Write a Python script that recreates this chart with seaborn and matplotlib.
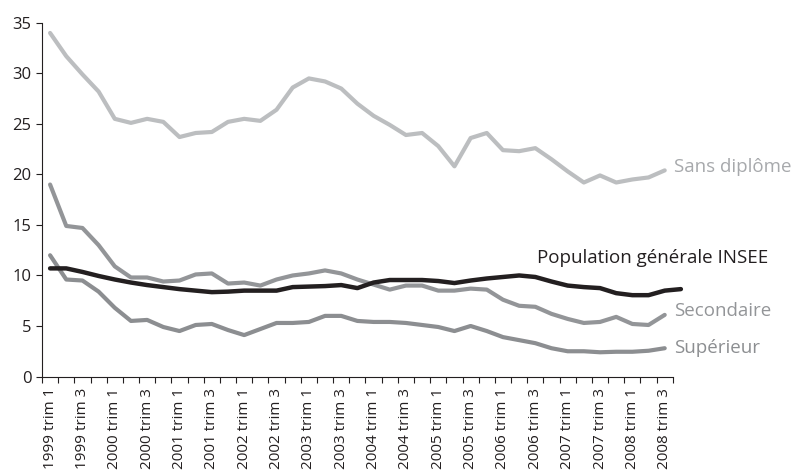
import numpy as np
import pandas as pd
import seaborn as sns
import matplotlib.pyplot as plt
from matplotlib.ticker import FixedLocator

# quarters 1999 T1 .. 2008 T3
years = [y for y in range(1999, 2009) for q in range(4)][:39]
quarters = [q for y in range(1999, 2009) for q in range(1, 5)][:39]
labels = ['{} trim {}'.format(y, q) for y, q in zip(years, quarters)]

sans_diplome = [34.0, 31.7, 29.9, 28.2, 25.5, 25.1, 25.5, 25.2, 23.7, 24.1,
                24.2, 25.2, 25.5, 25.3, 26.4, 28.6, 29.5, 29.2, 28.5, 27.0,
                25.8, 24.9, 23.9, 24.1, 22.8, 20.8, 23.6, 24.1, 22.4, 22.3,
                22.6, 21.5, 20.3, 19.2, 19.9, 19.2, 19.5, 19.7, 20.4]
secondaire = [19.0, 14.9, 14.7, 13.0, 10.9, 9.8, 9.8, 9.4, 9.5, 10.1,
              10.2, 9.2, 9.3, 9.0, 9.6, 10.0, 10.2, 10.5, 10.2, 9.6,
              9.1, 8.6, 9.0, 9.0, 8.5, 8.5, 8.7, 8.6, 7.6, 7.0,
              6.9, 6.2, 5.7, 5.3, 5.4, 5.9, 5.2, 5.1, 6.1]
superieur = [12.0, 9.6, 9.5, 8.4, 6.8, 5.5, 5.6, 4.9, 4.5, 5.1,
             5.2, 4.6, 4.1, 4.7, 5.3, 5.3, 5.4, 6.0, 6.0, 5.5,
             5.4, 5.4, 5.3, 5.1, 4.9, 4.5, 5.0, 4.5, 3.9, 3.6,
             3.3, 2.8, 2.5, 2.5, 2.4, 2.45, 2.45, 2.55, 2.8]
# INSEE series runs one quarter further (2008 T4)
insee = [10.7, 10.7, 10.35, 9.95, 9.6, 9.3, 9.05, 8.85, 8.65, 8.5,
         8.35, 8.4, 8.5, 8.5, 8.5, 8.85, 8.9, 8.95, 9.05, 8.75,
         9.3, 9.55, 9.55, 9.55, 9.45, 9.25, 9.5, 9.7, 9.85, 10.0,
         9.85, 9.4, 9.0, 8.85, 8.75, 8.25, 8.05, 8.05, 8.5, 8.65]

sns.set_style('ticks')
plt.rcParams['font.family'] = ['Open Sans', 'DejaVu Sans']

fig = plt.figure(figsize=(8, 4.76), dpi=100)
ax = fig.add_axes([0.0525, 0.209, 0.7885, 0.743])

dark = '#231f20'
c_sans = '#bcbec0'
c_sec = '#939598'
c_sup = '#8c8e91'

df = pd.DataFrame({'i': np.arange(39), 'sans': sans_diplome,
                   'sec': secondaire, 'sup': superieur})
sns.lineplot(data=df, x='i', y='sans', ax=ax, color=c_sans, lw=3.0)
sns.lineplot(data=df, x='i', y='sec', ax=ax, color=c_sec, lw=3.0)
sns.lineplot(data=df, x='i', y='sup', ax=ax, color=c_sup, lw=3.0)
sns.lineplot(x=np.arange(40), y=insee, ax=ax, color=dark, lw=3.2)
for ln in ax.lines:
    ln.set_clip_on(False)

ax.set_xlim(-0.5, 38.5)
ax.set_ylim(0, 35)
ax.set_yticks(range(0, 36, 5))
ax.set_xticks(range(0, 39, 2))
ax.set_xticklabels(labels[::2], rotation=90)
ax.xaxis.set_minor_locator(FixedLocator(np.arange(-0.5, 39, 1)))
ax.tick_params(axis='x', which='major', length=0, pad=8, labelsize=11, colors=dark)
ax.tick_params(axis='x', which='minor', length=4, width=0.8, color=dark, direction='out')
ax.tick_params(axis='y', length=4, width=0.8, color=dark, labelsize=12, labelcolor=dark)
ax.set_xlabel('')
ax.set_ylabel('')
sns.despine(ax=ax)
for s in ['left', 'bottom']:
    ax.spines[s].set_color(dark)
    ax.spines[s].set_linewidth(0.8)

fs = 13.5
ax.text(38.6, 20.7, 'Sans diplôme', color='#a7a9ac', fontsize=fs,
        va='center', ha='left')
ax.text(30.1, 11.7, 'Population générale INSEE', color=dark, fontsize=fs,
        va='center', ha='left')
ax.text(38.6, 6.5, 'Secondaire', color=c_sec, fontsize=fs, va='center', ha='left')
ax.text(38.6, 2.8, 'Supérieur', color=c_sup, fontsize=fs, va='center', ha='left')

plt.savefig('out.png', dpi=100)
